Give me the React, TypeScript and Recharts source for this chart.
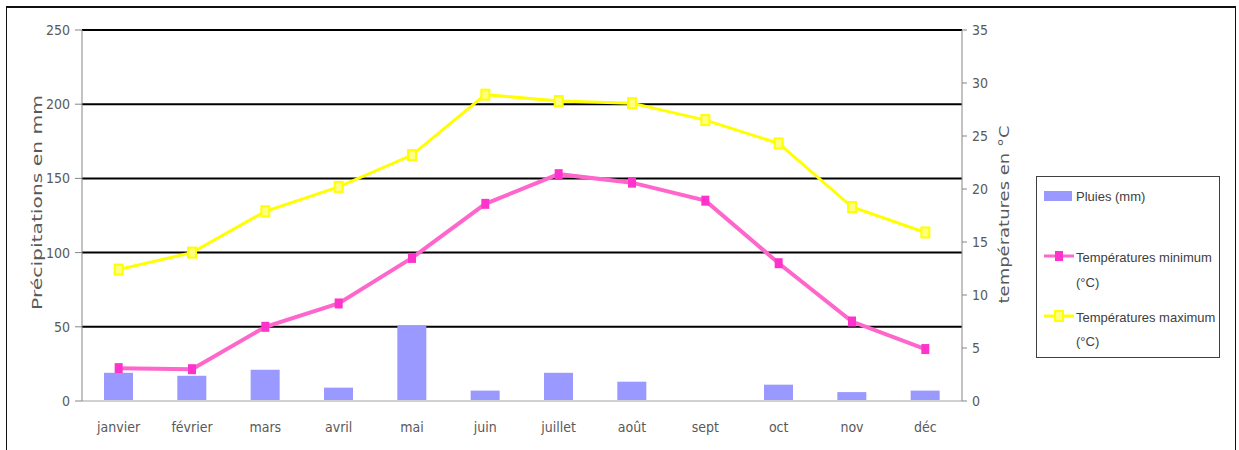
import { ComposedChart, Bar, Line, XAxis, YAxis, CartesianGrid, Legend } from 'recharts'

const months = ['janvier', 'février', 'mars', 'avril', 'mai', 'juin', 'juillet', 'août', 'sept', 'oct', 'nov', 'déc']
const pluies = [19, 17, 21, 9, 51, 7, 19, 13, 0, 11, 6, 7]
const tempMin = [3.1, 3.0, 7.0, 9.2, 13.5, 18.6, 21.4, 20.6, 18.9, 13.0, 7.5, 4.9]
const tempMax = [12.4, 14.0, 17.9, 20.2, 23.2, 28.9, 28.3, 28.1, 26.5, 24.3, 18.3, 15.9]
const mmTicks = [0, 50, 100, 150, 200, 250]
const degTicks = [0, 5, 10, 15, 20, 25, 30, 35]

const data = months.map((m, i) => ({ month: m, pluies: pluies[i], tmin: tempMin[i], tmax: tempMax[i] }))

const NARROW = "'Liberation Sans Narrow', 'DejaVu Sans Condensed', sans-serif"
const WIDE = "'DejaVu Sans', Verdana, sans-serif"
const GREY = '#595959'

const PINK = '#FF66CC'
const PINK_DOT = '#FF33CC'
const YELLOW = '#FFFF00'
const YELLOW_FILL = '#FFFF80'
const BLUE = '#9999FF'

// square markers, a bit taller than wide like in the original
const pinkDot = (p: any) => (
  <rect key={`pd-${p.index}`} x={p.cx - 4} y={p.cy - 5} width={8} height={10} fill={PINK_DOT} />
)
const yellowDot = (p: any) => (
  <rect key={`yd-${p.index}`} x={p.cx - 4} y={p.cy - 5} width={8} height={10} fill={YELLOW_FILL} stroke={YELLOW} strokeWidth={2} />
)

function LeftTitle(props: any) {
  const { viewBox } = props
  const x = viewBox.x + 31
  const y = viewBox.y + viewBox.height / 2 - 13
  return (
    <text
      transform={`translate(${x},${y}) rotate(-90) scale(1,0.78)`}
      textAnchor="middle"
      dominantBaseline="central"
      fill={GREY}
      fontFamily={WIDE}
      fontSize={17}
      textLength={215}
      lengthAdjust="spacingAndGlyphs"
    >
      Précipitations en mm
    </text>
  )
}

function RightTitle(props: any) {
  const { viewBox } = props
  const x = viewBox.x + 43
  const y = viewBox.y + viewBox.height / 2 - 1
  return (
    <text
      transform={`translate(${x},${y}) rotate(-90) scale(1,0.78)`}
      textAnchor="middle"
      dominantBaseline="central"
      fill={GREY}
      fontFamily={WIDE}
      fontSize={17}
      textLength={178}
      lengthAdjust="spacingAndGlyphs"
    >
      températures en °C
    </text>
  )
}

function LegendBox() {
  const t = { fill: '#404040', fontFamily: "'Liberation Sans', Arial, sans-serif", fontSize: 13 }
  return (
    <svg width={184} height={182} style={{ display: 'block' }}>
      <rect x={0.5} y={0.5} width={183} height={181} fill="#fff" stroke="#404040" />
      <rect x={8} y={15} width={28} height={10} fill={BLUE} />
      <text x={40} y={25} {...t}>Pluies (mm)</text>

      <line x1={8} y1={80} x2={38} y2={80} stroke={PINK} strokeWidth={3} />
      <rect x={19} y={75} width={8} height={10} fill={PINK_DOT} />
      <text x={40} y={86} {...t}>Températures minimum</text>
      <text x={40} y={111} {...t}>(°C)</text>

      <line x1={8} y1={140} x2={38} y2={140} stroke={YELLOW} strokeWidth={3} />
      <rect x={19} y={135} width={8} height={10} fill={YELLOW_FILL} stroke={YELLOW} strokeWidth={2} />
      <text x={40} y={146} {...t}>Températures maximum</text>
      <text x={40} y={170} {...t}>(°C)</text>
    </svg>
  )
}

export default function App() {
  return (
    <div
      style={{
        position: 'absolute',
        left: 6,
        top: 6,
        width: 1228,
        height: 460,
        borderTop: '2px solid #111',
        borderLeft: '1px solid #111',
        borderRight: '1px solid #111',
        background: '#fff',
      }}
    >
      <ComposedChart width={1228} height={440} data={data} margin={{ top: 22, right: 213, bottom: 17, left: 0 }}>
        <CartesianGrid
          yAxisId="left"
          vertical={false}
          stroke="#000"
          strokeWidth={2}
          horizontalValues={[50, 100, 150, 200, 250]}
        />
        <XAxis
          dataKey="month"
          height={30}
          tickLine={false}
          tickSize={0}
          tickMargin={21}
          axisLine={{ stroke: '#d0d0d0', strokeWidth: 2 }}
          tick={{ fill: GREY, fontSize: 14, fontFamily: NARROW }}
          interval={0}
        />
        <YAxis
          yAxisId="left"
          width={75}
          domain={[0, 250]}
          ticks={mmTicks}
          tickSize={7}
          tickMargin={5}
          axisLine={{ stroke: '#868686' }}
          tickLine={{ stroke: '#868686' }}
          tick={{ fill: GREY, fontSize: 14, fontFamily: NARROW }}
          label={<LeftTitle />}
        />
        <YAxis
          yAxisId="right"
          orientation="right"
          width={60}
          domain={[0, 35]}
          ticks={degTicks}
          tickSize={5}
          tickMargin={5}
          axisLine={{ stroke: '#868686' }}
          tickLine={{ stroke: '#868686' }}
          tick={{ fill: GREY, fontSize: 14, fontFamily: NARROW }}
          label={<RightTitle />}
        />
        <Legend
          layout="vertical"
          align="center"
          verticalAlign="middle"
          wrapperStyle={{ left: 1029, top: 168, width: 184 }}
          content={() => <LegendBox />}
        />
        <Bar yAxisId="left" dataKey="pluies" name="Pluies (mm)" fill={BLUE} barSize={29} isAnimationActive={false} />
        <Line
          yAxisId="right"
          type="linear"
          dataKey="tmin"
          name="Températures minimum (°C)"
          stroke={PINK}
          strokeWidth={4}
          dot={pinkDot}
          activeDot={false}
          isAnimationActive={false}
        />
        <Line
          yAxisId="right"
          type="linear"
          dataKey="tmax"
          name="Températures maximum (°C)"
          stroke={YELLOW}
          strokeWidth={3}
          dot={yellowDot}
          activeDot={false}
          isAnimationActive={false}
        />
      </ComposedChart>
    </div>
  )
}
